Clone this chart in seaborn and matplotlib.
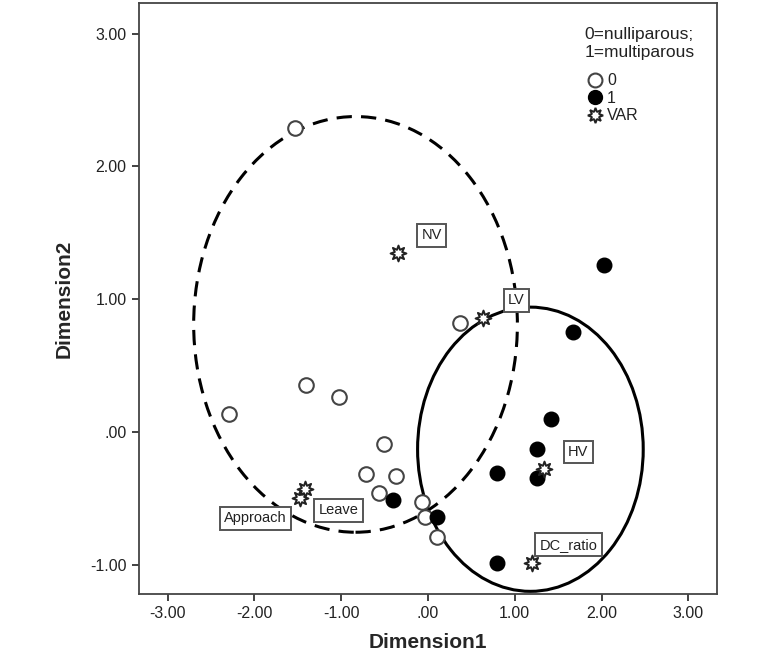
import matplotlib
matplotlib.use("Agg")
import matplotlib.pyplot as plt
from matplotlib.patches import Ellipse
from matplotlib.lines import Line2D
from matplotlib.ticker import FuncFormatter, MultipleLocator
import seaborn as sns
import pandas as pd

# object scores: nulliparous (0)
null_x = [-1.53, -2.29, -1.40, -1.02, -0.51, -0.71, -0.37, -0.57, -0.07, -0.04, 0.10, 0.37]
null_y = [2.29, 0.135, 0.35, 0.26, -0.09, -0.32, -0.33, -0.46, -0.53, -0.64, -0.79, 0.82]

# object scores: multiparous (1)
multi_x = [-0.40, 0.10, 0.79, 1.26, 1.42, 1.26, 0.79, 1.67, 2.03]
multi_y = [-0.51, -0.64, -0.31, -0.13, 0.10, -0.35, -0.99, 0.75, 1.26]

# variable points and their labels
var_names = ["NV", "LV", "HV", "DC_ratio", "Approach", "Leave"]
var_x = [-0.34, 0.63, 1.34, 1.20, -1.47, -1.42]
var_y = [1.35, 0.86, -0.28, -0.99, -0.50, -0.43]
lab_x = [0.04, 1.02, 1.73, 1.62, -1.99, -1.03]
lab_y = [1.48, 0.99, -0.15, -0.85, -0.65, -0.59]

# group ellipses: centre, width, height
ell_null = (-0.835, 0.81, 3.73, 3.13)
ell_multi = (1.18, -0.13, 2.60, 2.14)

sns.set_style("white")
plt.rcParams["font.family"] = ["Liberation Sans", "DejaVu Sans"]

fig = plt.figure(figsize=(7.76, 6.55), dpi=100)
ax = fig.add_axes([139 / 776, 1 - 594 / 655, 578 / 776, 591 / 655])

obj = pd.DataFrame({
    "x": null_x + multi_x,
    "y": null_y + multi_y,
    "group": ["0"] * len(null_x) + ["1"] * len(multi_x),
})
sns.scatterplot(data=obj[obj.group == "0"], x="x", y="y", ax=ax, s=110,
                facecolor="white", edgecolor="#444444", linewidth=1.5, zorder=3)
sns.scatterplot(data=obj[obj.group == "1"], x="x", y="y", ax=ax, s=110,
                color="black", edgecolor="black", linewidth=1, zorder=3)
sns.scatterplot(x=var_x, y=var_y, ax=ax, marker=(8, 1, 0), s=130,
                facecolor="white", edgecolor="#222222", linewidth=1.4, zorder=4)

for name, tx, ty in zip(var_names, lab_x, lab_y):
    ax.text(tx, ty, name, fontsize=10.5, ha="center", va="center", zorder=5,
            color="#222222",
            bbox=dict(boxstyle="square,pad=0.3", fc="white", ec="#555555", lw=1.4))

cx, cy, w, h = ell_null
ax.add_patch(Ellipse((cx, cy), w, h, fill=False, ec="black", lw=2.2,
                     ls=(0, (5, 3)), zorder=2))
cx, cy, w, h = ell_multi
ax.add_patch(Ellipse((cx, cy), w, h, fill=False, ec="black", lw=2.2, zorder=2))

ax.set_xlim(-3.33, 3.33)
ax.set_ylim(-1.22, 3.23)
ax.xaxis.set_major_locator(MultipleLocator(1))
ax.yaxis.set_major_locator(MultipleLocator(1))
fmt = FuncFormatter(lambda v, p: ".00" if abs(v) < 1e-9 else f"{v:.2f}")
ax.xaxis.set_major_formatter(fmt)
ax.yaxis.set_major_formatter(fmt)
ax.tick_params(axis="both", direction="out", length=5, width=1.3, color="#333333",
               labelsize=11.5, labelcolor="#222222", pad=4, bottom=True, left=True)
for sp in ax.spines.values():
    sp.set_color("#444444")
    sp.set_linewidth(1.3)

ax.set_xlabel("Dimension1", fontsize=15, fontweight="bold", labelpad=8)
ax.set_ylabel("Dimension2", fontsize=15, fontweight="bold", labelpad=12)

handles = [
    Line2D([], [], ls="", marker="o", ms=10, mfc="white", mec="#444444", mew=1.5),
    Line2D([], [], ls="", marker="o", ms=10, mfc="black", mec="black"),
    Line2D([], [], ls="", marker=(8, 1, 0), ms=11, mfc="white", mec="#222222", mew=1.4),
]
leg = ax.legend(handles, ["0", "1", "VAR"], title="0=nulliparous;\n1=multiparous",
                loc="upper left", bbox_to_anchor=(0.76, 0.97), frameon=False,
                fontsize=11.5, title_fontsize=12.5, handletextpad=0.1,
                labelspacing=0.15, handlelength=1.3, borderaxespad=0)
leg._legend_box.align = "left"
leg._legend_box.sep = 10
leg.get_title().set_color("#222222")
for t in leg.get_texts():
    t.set_color("#222222")

fig.savefig("out.png", dpi=100)
